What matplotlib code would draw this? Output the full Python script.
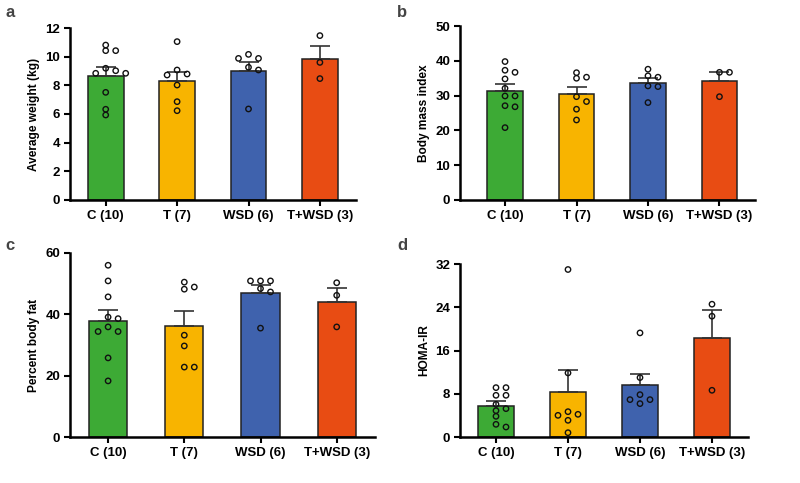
import numpy as np
import matplotlib as mpl
import matplotlib.pyplot as plt
mpl.use('Agg')

plt.rcParams['font.family'] = ['Liberation Sans', 'DejaVu Sans']

groups = ["C (10)", "T (7)", "WSD (6)", "T+WSD (3)"]
colors = ["#3DAA35", "#F8B400", "#3F62AD", "#E84C13"]

# a: average weight (kg)
weight_mean = [8.67, 8.33, 9.02, 9.82]
weight_sem = [0.59, 0.62, 0.58, 0.93]
weight_pts = [
    [10.81, 10.42, 10.42, 9.19, 9.02, 8.84, 8.84, 7.51, 6.33, 5.93],
    [11.05, 9.07, 8.79, 8.72, 8.02, 6.86, 6.23],
    [10.16, 9.88, 9.88, 9.26, 9.07, 6.35],
    [11.47, 9.60, 8.47],
]

# b: body mass index
bmi_mean = [31.4, 30.4, 33.5, 34.3]
bmi_sem = [1.9, 2.0, 1.5, 2.4]
bmi_pts = [
    [39.8, 37.3, 36.7, 34.8, 32.1, 29.9, 29.9, 27.1, 26.8, 20.8],
    [36.6, 35.3, 35.0, 29.7, 28.3, 26.1, 23.0],
    [37.6, 35.7, 35.3, 32.8, 32.6, 28.0],
    [36.7, 36.7, 29.7],
]

# c: percent body fat
fat_mean = [37.7, 36.3, 47.1, 44.0]
fat_sem = [3.6, 4.9, 2.6, 4.6]
fat_pts = [
    [56.0, 50.9, 45.7, 39.1, 38.6, 35.9, 34.4, 34.4, 25.8, 18.3],
    [50.5, 48.9, 48.2, 33.2, 29.7, 22.8, 22.8],
    [50.9, 50.9, 50.9, 48.4, 47.3, 35.5],
    [50.3, 46.2, 35.9],
]

# d: HOMA-IR
homa_mean = [5.68, 8.34, 9.57, 18.4]
homa_sem = [0.99, 4.14, 2.10, 5.07]
homa_pts = [
    [9.14, 9.14, 7.72, 7.72, 6.05, 5.25, 4.88, 3.83, 2.35, 1.85],
    [31.0, 11.86, 4.69, 4.2, 4.01, 3.09, 0.8],
    [19.27, 11.0, 7.84, 6.92, 6.92, 6.18],
    [24.58, 22.36, 8.65],
]


def swarm(vals, px_per_unit, step, diam=5.2):
    placed = []
    offs = []
    for v in vals:
        for k in [0, 1, -1, 2, -2, 3, -3]:
            ok = True
            for (pv, pk) in placed:
                if abs((v - pv) * px_per_unit) < diam and pk == k:
                    ok = False
                    break
            if ok:
                break
        placed.append((v, k))
        offs.append(k * step)
    return offs


def panel(rect, means, sems, pts, ylim, yticks, ylabel, letter, letter_xy, xlim=(-0.5, 3.5)):
    ax = fig.add_axes(rect)
    x = np.arange(len(groups))
    ax.bar(x, means, width=0.5, color=colors, edgecolor="#222222", linewidth=1.1, zorder=2)
    ax.errorbar(x, means, yerr=[np.zeros(len(sems)), sems], fmt="none", ecolor="#333333",
                elinewidth=1.2, capsize=7, capthick=1.2, zorder=3)
    ax_h_px = rect[3] * fig.get_figheight() * fig.dpi
    ax_w_px = rect[2] * fig.get_figwidth() * fig.dpi
    px_per_unit = ax_h_px / (ylim[1] - ylim[0])
    step = 10.0 / (ax_w_px / (xlim[1] - xlim[0]))
    for i, vals in enumerate(pts):
        offs = swarm(vals, px_per_unit, step)
        ax.scatter(i + np.array(offs), vals, s=15, facecolors="none", edgecolors="#111111",
                   linewidths=1.0, zorder=4, clip_on=False)
    ax.set_xlim(*xlim)
    ax.set_ylim(*ylim)
    ax.set_yticks(yticks)
    ax.set_xticks(x)
    ax.set_xticklabels(groups, fontsize=9.5, fontweight="bold")
    for lab in ax.get_yticklabels():
        lab.set_fontsize(9.5)
        lab.set_fontweight("bold")
    ax.set_ylabel(ylabel, fontsize=8.6, fontweight="bold", labelpad=4)
    ax.spines["top"].set_visible(False)
    ax.spines["right"].set_visible(False)
    ax.spines["left"].set_linewidth(1.8)
    ax.spines["bottom"].set_linewidth(1.8)
    ax.tick_params(axis="both", length=4, width=1.5, pad=3)
    fig.text(letter_xy[0], letter_xy[1], letter, fontsize=12, fontweight="bold", color="#444444",
             ha="left", va="center")
    return ax


fig = plt.figure(figsize=(8, 4.83), dpi=100)

panel([0.0875, 0.586, 0.357, 0.356], weight_mean, weight_sem, weight_pts, (0, 12),
      np.arange(0, 13, 2), "Average weight (kg)", "a", (0.007, 0.975))
panel([0.575, 0.586, 0.369, 0.360], bmi_mean, bmi_sem, bmi_pts, (0, 50),
      np.arange(0, 51, 10), "Body mass index", "b", (0.496, 0.975), xlim=(-0.63, 3.5))
panel([0.0875, 0.0952, 0.381, 0.381], fat_mean, fat_sem, fat_pts, (0, 60),
      np.arange(0, 61, 20), "Percent body fat", "c", (0.007, 0.492))
panel([0.575, 0.0952, 0.360, 0.358], homa_mean, homa_sem, homa_pts, (0, 32),
      np.arange(0, 33, 8), "HOMA-IR", "d", (0.497, 0.492))

fig.savefig("out.png", dpi=100)
